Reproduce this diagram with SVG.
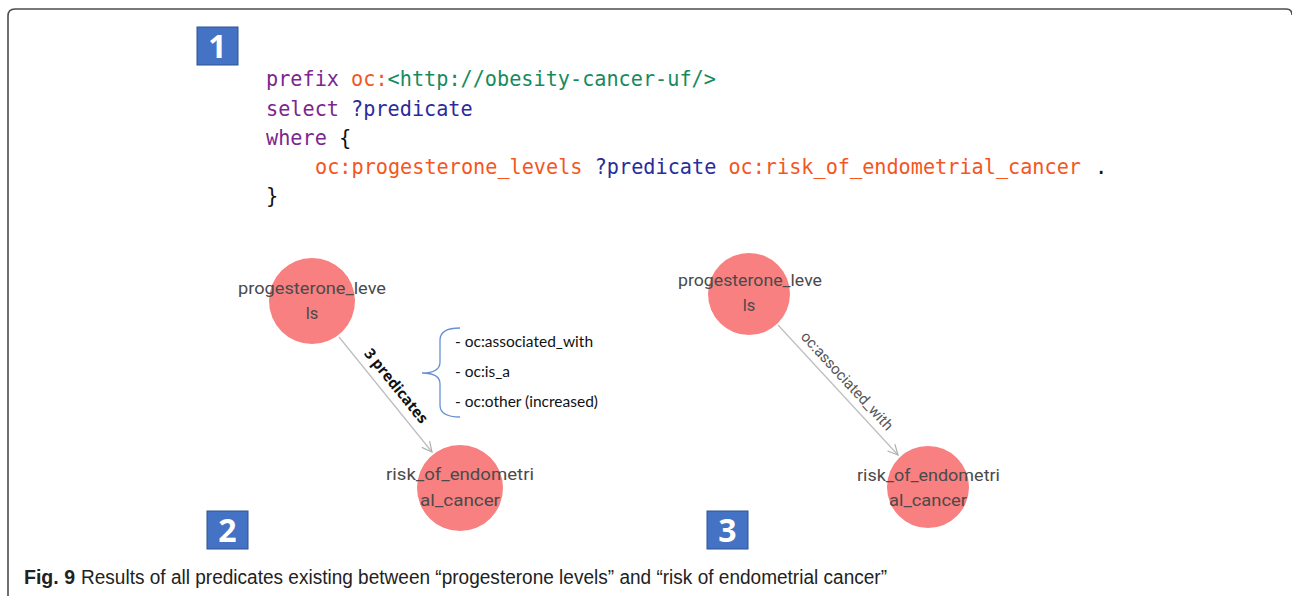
<svg xmlns="http://www.w3.org/2000/svg" width="1292" height="596" viewBox="0 0 1292 596">
  <style>
    .code { font-family: "DejaVu Sans Mono", "Liberation Mono", monospace; font-size: 20.5px; }
    .kw { fill: #7d2590; }
    .pfx { fill: #f4561e; }
    .uri { fill: #178a5c; }
    .var { fill: #2b2b9c; }
    .plain { fill: #111111; }
    .badge rect { fill: #4472c4; stroke: #2f528f; stroke-width: 1; }
    .badge text { font-family: "Open Sans", "Liberation Sans", sans-serif; font-weight: bold; font-size: 32px; fill: #ffffff; text-anchor: middle; }
    .node circle { fill: #f88080; }
    .node text { font-family: Roboto, "Noto Sans", sans-serif; font-size: 16.5px; fill: #4a4a4a; text-anchor: middle; }
    .edge { stroke: #bdbdbd; stroke-width: 1.2; fill: none; }
    .elabel { font-family: Roboto, "Noto Sans", sans-serif; font-size: 15px; fill: #555555; text-anchor: middle; }
    .elabel-bold { font-family: "Open Sans", "Liberation Sans", sans-serif; font-size: 15px; font-weight: bold; fill: #111111; text-anchor: middle; }
    .list { font-family: Lato, "Open Sans", sans-serif; font-size: 15.5px; fill: #111111; }
    .caption { font-family: "Liberation Sans", Arial, sans-serif; font-size: 20px; fill: #222222; }
  </style>
  <defs>
    <marker id="arrow" viewBox="0 0 12 12" refX="11" refY="6" markerWidth="12" markerHeight="12" markerUnits="userSpaceOnUse" orient="auto">
      <path d="M1,1 L11,6 L1,11" fill="none" stroke="#b0b0b0" stroke-width="1.2"/>
    </marker>
  </defs>

  <rect x="0" y="0" width="1292" height="596" fill="#ffffff"/>

  <!-- figure frame -->
  <path d="M8,597 V16 Q8,9 15,9 H1286 Q1292,9 1292,15" fill="none" stroke="#4d4d4d" stroke-width="1.6"/>

  <!-- SPARQL query, monospace grid of 12.16px per character -->
  <g id="query">
    <text class="code kw" x="266" y="86" textLength="73" lengthAdjust="spacingAndGlyphs">prefix</text>
    <text class="code pfx" x="351.1" y="86" textLength="36.5" lengthAdjust="spacingAndGlyphs">oc:</text>
    <text class="code uri" x="387.6" y="86" textLength="328.3" lengthAdjust="spacingAndGlyphs">&lt;http://obesity-cancer-uf/&gt;</text>

    <text class="code kw" x="266" y="115.5" textLength="73" lengthAdjust="spacingAndGlyphs">select</text>
    <text class="code var" x="351.1" y="115.5" textLength="121.6" lengthAdjust="spacingAndGlyphs">?predicate</text>

    <text class="code kw" x="266" y="145" textLength="60.8" lengthAdjust="spacingAndGlyphs">where</text>
    <text class="code plain" x="339" y="145">{</text>

    <text class="code pfx" x="315" y="174" textLength="267.5" lengthAdjust="spacingAndGlyphs">oc:progesterone_levels</text>
    <text class="code var" x="594.7" y="174" textLength="121.6" lengthAdjust="spacingAndGlyphs">?predicate</text>
    <text class="code pfx" x="728.4" y="174" textLength="352.6" lengthAdjust="spacingAndGlyphs">oc:risk_of_endometrial_cancer</text>
    <text class="code plain" x="1095" y="174">.</text>

    <text class="code plain" x="266" y="203">}</text>
  </g>

  <!-- numbered badges -->
  <g id="badge-1" class="badge">
    <rect x="197" y="27" width="41" height="38"/>
    <text x="217.5" y="57.5">1</text>
  </g>
  <g id="badge-2" class="badge">
    <rect x="207" y="511" width="41" height="38"/>
    <text x="227.5" y="541.5">2</text>
  </g>
  <g id="badge-3" class="badge">
    <rect x="707" y="511" width="41" height="38"/>
    <text x="727.5" y="541.5">3</text>
  </g>

  <!-- connectors -->
  <g id="connectors">
    <line class="edge" x1="339" y1="337" x2="432" y2="452" marker-end="url(#arrow)"/>
    <text class="elabel-bold" transform="translate(396,386) rotate(51)" y="5">3 predicates</text>
    <line class="edge" x1="778" y1="325" x2="898" y2="455" marker-end="url(#arrow)"/>
    <text class="elabel" transform="translate(847,381) rotate(47.3)" y="5">oc:associated_with</text>
  </g>

  <!-- graph 2 nodes -->
  <g id="node-progesterone-2" class="node">
    <circle cx="312" cy="301" r="43"/>
    <text x="312" y="294" textLength="148" lengthAdjust="spacingAndGlyphs">progesterone_leve</text>
    <text x="312" y="319">ls</text>
  </g>
  <g id="node-risk-2" class="node">
    <circle cx="460" cy="488" r="43"/>
    <text x="460" y="480" textLength="148" lengthAdjust="spacingAndGlyphs">risk_of_endometri</text>
    <text x="460" y="506" textLength="80" lengthAdjust="spacingAndGlyphs">al_cancer</text>
  </g>

  <!-- predicate list with brace -->
  <g id="predicate-list">
    <path d="M460,328 Q440,328 440,340 V362 Q440,373 422,373 Q440,373 440,384 V405 Q440,417 460,417" fill="none" stroke="#6a8fd6" stroke-width="1.3"/>
    <text class="list" x="455" y="347">- oc:associated_with</text>
    <text class="list" x="455" y="377">- oc:is_a</text>
    <text class="list" x="455" y="407">- oc:other (increased)</text>
  </g>

  <!-- graph 3 nodes -->
  <g id="node-progesterone-3" class="node">
    <circle cx="749" cy="294" r="41"/>
    <text x="750" y="286" textLength="144" lengthAdjust="spacingAndGlyphs">progesterone_leve</text>
    <text x="749" y="311">ls</text>
  </g>
  <g id="node-risk-3" class="node">
    <circle cx="928" cy="487" r="41"/>
    <text x="928.5" y="481" textLength="143" lengthAdjust="spacingAndGlyphs">risk_of_endometri</text>
    <text x="928" y="506" textLength="78" lengthAdjust="spacingAndGlyphs">al_cancer</text>
  </g>

  <!-- caption -->
  <g id="caption">
    <text class="caption" x="24" y="584" font-weight="bold" textLength="51" lengthAdjust="spacingAndGlyphs">Fig. 9</text>
    <text class="caption" x="81" y="584" textLength="806" lengthAdjust="spacingAndGlyphs">Results of all predicates existing between “progesterone levels” and “risk of endometrial cancer”</text>
  </g>
</svg>
